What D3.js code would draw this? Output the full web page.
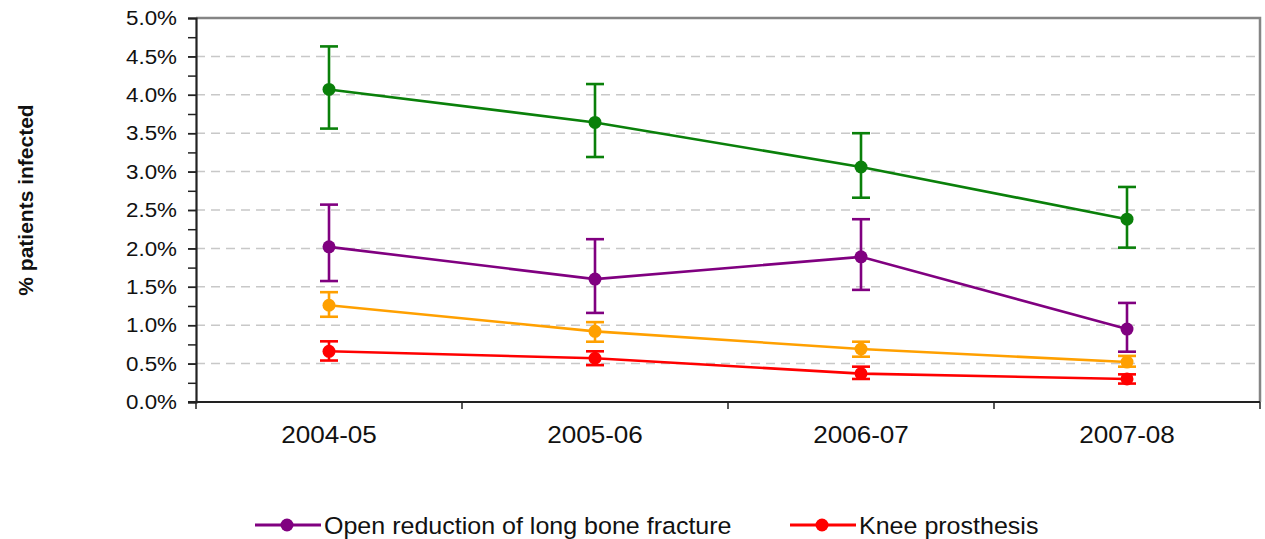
<!DOCTYPE html>
<html>
<head>
<meta charset="utf-8">
<script src="https://cdn.jsdelivr.net/npm/d3@7"></script>
<style>
  html, body { margin: 0; padding: 0; background: #fff; }
  svg { display: block; font-family: "Liberation Sans", Arial, sans-serif; }
</style>
</head>
<body>
<svg id="chart" width="1265" height="539"></svg>
<script>
// Surgical site infection rates by year, with confidence intervals
const years = ["2004-05", "2005-06", "2006-07", "2007-08"];
const yTicks = [0, 0.5, 1.0, 1.5, 2.0, 2.5, 3.0, 3.5, 4.0, 4.5, 5.0];
const yMinorTicks = d3.range(0, 5.001, 0.25);

const hemiRate  = [4.07, 3.64, 3.06, 2.38];
const hemiLow   = [3.56, 3.19, 2.66, 2.01];
const hemiHigh  = [4.63, 4.14, 3.50, 2.80];

const fractureRate = [2.02, 1.60, 1.89, 0.95];
const fractureLow  = [1.575, 1.16, 1.46, 0.655];
const fractureHigh = [2.57, 2.12, 2.38, 1.29];

const hipRate  = [1.26, 0.92, 0.69, 0.52];
const hipLow   = [1.11, 0.785, 0.59, 0.46];
const hipHigh  = [1.43, 1.04, 0.785, 0.60];

const kneeRate = [0.66, 0.57, 0.37, 0.30];
const kneeLow  = [0.54, 0.48, 0.30, 0.24];
const kneeHigh = [0.79, 0.66, 0.46, 0.36];

const seriesNames = ["Hip hemiarthroplasty", "Open reduction of long bone fracture", "Hip prosthesis", "Knee prosthesis"];
const legendNames = ["Open reduction of long bone fracture", "Knee prosthesis"];

const series = [
  { name: seriesNames[0], rate: hemiRate, low: hemiLow, high: hemiHigh, color: "#0a800a" },
  { name: seriesNames[1], rate: fractureRate, low: fractureLow, high: fractureHigh, color: "#800080" },
  { name: seriesNames[2], rate: hipRate, low: hipLow, high: hipHigh, color: "#ffa000" },
  { name: seriesNames[3], rate: kneeRate, low: kneeLow, high: kneeHigh, color: "#ff0000" }
];

const plotLeft = 196, plotRight = 1260, plotTop = 18, plotBottom = 402;
// horizontal widening applied to horizontal labels
const textStretch = 1.065;
const svg = d3.select("#chart");

const x = d3.scaleBand().domain(years).range([plotLeft, plotRight]).padding(0);
const y = d3.scaleLinear().domain([0, 5]).range([plotBottom, plotTop]);
const fmt = d => d.toFixed(1) + "%";

// horizontal dashed gridlines
svg.append("g")
  .selectAll("line")
  .data(yTicks.filter(t => t > 0 && t < 5))
  .join("line")
  .attr("x1", plotLeft).attr("x2", plotRight)
  .attr("y1", d => y(d)).attr("y2", d => y(d))
  .attr("stroke", "#c8c8c8")
  .attr("stroke-width", 1.5)
  .attr("stroke-dasharray", "9,6");

// plot frame (top and right)
svg.append("path")
  .attr("d", `M${plotLeft},${plotTop}H${plotRight}V${plotBottom}`)
  .attr("fill", "none")
  .attr("stroke", "#858585")
  .attr("stroke-width", 2.5);

// y axis: minor ticks then labelled major ticks
const yMinor = svg.append("g").attr("transform", `translate(${plotLeft},0)`)
  .call(d3.axisLeft(y).tickValues(yMinorTicks).tickSize(8).tickFormat(""));
yMinor.select(".domain").remove();
yMinor.selectAll("line").attr("stroke", "#222").attr("stroke-width", 1.5);

const yAxis = svg.append("g").attr("transform", `translate(${plotLeft},0)`)
  .call(d3.axisLeft(y).tickValues(yTicks).tickSize(8).tickPadding(11).tickFormat(fmt));
yAxis.select(".domain").attr("stroke", "#222").attr("stroke-width", 2.2);
yAxis.selectAll("line").attr("stroke", "#222").attr("stroke-width", 1.5);
yAxis.selectAll("text")
  .attr("font-size", 21)
  .attr("fill", "#111")
  .attr("x", -19 / textStretch)
  .attr("transform", `scale(${textStretch},1)`)
  .attr("font-family", "Liberation Sans, Arial, sans-serif");

// x axis with tick marks at category boundaries
const xAxis = svg.append("g").attr("transform", `translate(0,${plotBottom})`)
  .call(d3.axisBottom(x).tickSize(0).tickPadding(0).tickFormat(""));
xAxis.select(".domain").attr("stroke", "#222").attr("stroke-width", 2.2)
  .attr("d", `M${plotLeft - 8},0H${plotRight}`);
const boundaries = years.map(d => x(d)).concat([x(years[years.length - 1]) + x.bandwidth()]);
xAxis.append("g").selectAll("line")
  .data(boundaries)
  .join("line")
  .attr("x1", d => d).attr("x2", d => d)
  .attr("y1", 0).attr("y2", 7)
  .attr("stroke", "#222").attr("stroke-width", 1.5);
xAxis.append("g").selectAll("text")
  .data(years)
  .join("text")
  .attr("transform", d => `translate(${x(d) + x.bandwidth() / 2},41) scale(${textStretch},1)`)
  .attr("text-anchor", "middle")
  .attr("font-size", 24.5)
  .attr("fill", "#111")
  .text(d => d);

// y axis title
svg.append("text")
  .attr("transform", "translate(33,200) rotate(-90)")
  .attr("text-anchor", "middle")
  .attr("font-size", 21)
  .attr("font-weight", "bold")
  .attr("fill", "#111")
  .text("% patients infected");

// series: lines, error bars, markers
const cx = d => x(d) + x.bandwidth() / 2;
const capHalf = 9;
series.forEach(s => {
  const g = svg.append("g");
  const pts = years.map((yr, i) => ({ yr, v: s.rate[i], lo: s.low[i], hi: s.high[i] }));
  g.append("path")
    .datum(pts)
    .attr("fill", "none")
    .attr("stroke", s.color)
    .attr("stroke-width", 2.6)
    .attr("d", d3.line().x(p => cx(p.yr)).y(p => y(p.v)));
  const eb = g.selectAll("g.eb").data(pts).join("g").attr("class", "eb")
    .attr("stroke", s.color).attr("stroke-width", 2.6);
  eb.append("line")
    .attr("x1", p => cx(p.yr)).attr("x2", p => cx(p.yr))
    .attr("y1", p => y(p.lo)).attr("y2", p => y(p.hi));
  eb.append("line")
    .attr("x1", p => cx(p.yr) - capHalf).attr("x2", p => cx(p.yr) + capHalf)
    .attr("y1", p => y(p.hi)).attr("y2", p => y(p.hi));
  eb.append("line")
    .attr("x1", p => cx(p.yr) - capHalf).attr("x2", p => cx(p.yr) + capHalf)
    .attr("y1", p => y(p.lo)).attr("y2", p => y(p.lo));
  g.selectAll("circle").data(pts).join("circle")
    .attr("cx", p => cx(p.yr)).attr("cy", p => y(p.v))
    .attr("r", 6.5)
    .attr("fill", s.color);
});

// legend
const legendX = [255, 790];
const legendG = svg.append("g");
legendNames.forEach((name, i) => {
  const s = series.find(d => d.name === name);
  const gx = legendX[i];
  const item = legendG.append("g").attr("transform", `translate(${gx},525)`);
  item.append("line").attr("x1", 0).attr("x2", 66).attr("y1", 0).attr("y2", 0)
    .attr("stroke", s.color).attr("stroke-width", 3);
  item.append("circle").attr("cx", 32).attr("cy", 0).attr("r", 6.5).attr("fill", s.color);
  item.append("text")
    .attr("transform", `translate(69,8.5) scale(${textStretch},1)`)
    .attr("font-size", 23.5)
    .attr("fill", "#111")
    .text(name);
});
</script>
</body>
</html>
